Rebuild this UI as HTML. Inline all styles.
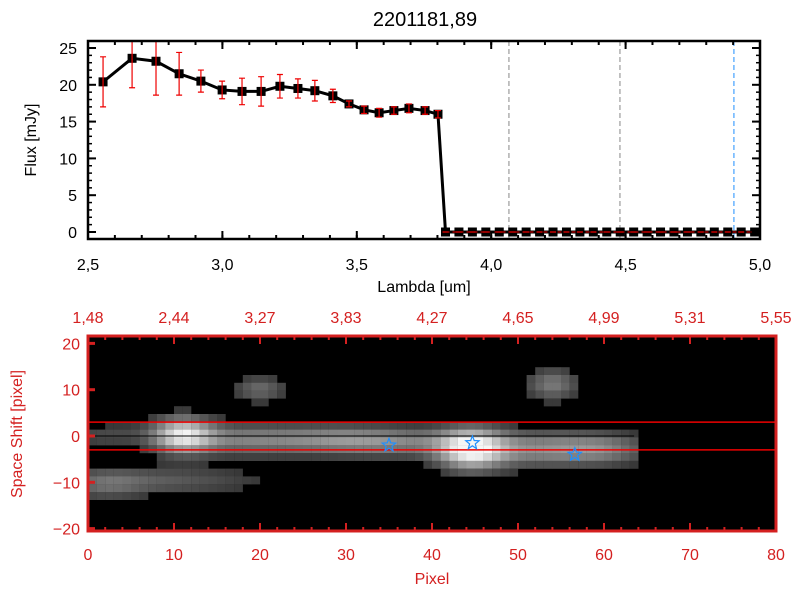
<!DOCTYPE html>
<html><head><meta charset="utf-8"><style>
body{margin:0;background:#fff;width:800px;height:600px;overflow:hidden}
svg text{font-family:"Liberation Sans",sans-serif}
</style></head><body>
<svg id="c" width="800" height="600"></svg>
<script>
const lam=[2.556,2.664,2.753,2.839,2.92,2.999,3.073,3.144,3.214,3.281,3.344,3.411,3.471,3.527,3.583,3.638,3.694,3.754,3.802,3.83,3.88,3.93,3.98,4.03,4.08,4.13,4.18,4.23,4.28,4.33,4.38,4.43,4.48,4.53,4.58,4.63,4.68,4.73,4.78,4.83,4.88,4.93,4.98];
const flux=[20.4,23.6,23.2,21.5,20.5,19.3,19.1,19.1,19.8,19.5,19.2,18.5,17.4,16.6,16.2,16.5,16.8,16.5,16.0,0,0,0,0,0,0,0,0,0,0,0,0,0,0,0,0,0,0,0,0,0,0,0,0];
const ferr=[3.4,4.0,4.6,2.9,1.5,1.2,1.8,2.0,1.6,1.3,1.4,0.9,0.4,0.5,0.6,0.5,0.6,0.5,0.5,0,0,0,0,0,0,0,0,0,0,0,0,0,0,0,0,0,0,0,0,0,0,0,0];
const vlines=[4.066,4.479,4.903];
const vcolors=["#888","#888","#1e8fff"];
const xTicks=["2,5","3,0","3,5","4,0","4,5","5,0"];
const yTicks=[0,5,10,15,20,25];
const topLabels=["1,48","2,44","3,27","3,83","4,27","4,65","4,99","5,31","5,55"];
const pixTicks=[0,10,20,30,40,50,60,70,80];
const shiftTicks=[20,10,0,-10,-20];
const blobX=[11,44.5,20,54,8,18,28,36,52,60,2,2];
const blobY=[0,-3,10,11,-10,-1,-1,-1.5,-3,-3,0,-11];
const blobA=[0.85,0.95,0.35,0.42,0.28,0.4,0.4,0.4,0.45,0.4,0.2,0.2];
const blobSX=[2.5,2.8,2.2,2.2,9,5,5,5,5,4,4,3];
const blobSY=[2.8,3.2,2,2.5,2.2,2.5,2.3,2.3,2.8,2.5,2,2.5];
const stars=[[35,-2],[44.7,-1.5],[56.6,-4]];

const S=document.getElementById('c');const NS="http://www.w3.org/2000/svg";
function el(t,a,txt,p){const e=document.createElementNS(NS,t);for(const k in a)e.setAttribute(k,a[k]);if(txt!==undefined)e.textContent=txt;(p||S).appendChild(e);return e;}
const X0=88,X1=760,Y0=41,Y1=239;
const xs=v=>X0+(v-2.5)/2.5*(X1-X0);
const ys=v=>232-v*7.36;
let t=el('text',{x:425,y:26,'text-anchor':'middle','font-size':20},'2201181,89');

vlines.forEach((v,i)=>{const l=el('line',{x1:xs(v),x2:xs(v),y1:Y0,y2:Y1,stroke:vcolors[i],'stroke-width':1,'stroke-dasharray':'5,3'});
});
let pts=lam.map((v,i)=>xs(v)+','+ys(flux[i])).join(' ');
let pl=el('polyline',{points:pts,fill:'none',stroke:'#000','stroke-width':3});

lam.forEach((v,i)=>{const x=xs(v),y=ys(flux[i]);
const r=el('rect',{x:x-4.5,y:y-4.5,width:9,height:9,fill:'#000'});

const yt=ys(flux[i]+ferr[i]),yb=ys(flux[i]-ferr[i]);
let d=`M${x},${Math.max(Y0,yt)}V${yb}M${x-3},${yb}h6`;
if(yt>=Y0)d+=`M${x-3},${yt}h6`;
const e=el('path',{d:d,stroke:'#e00',fill:'none','stroke-width':1.2});
});
el('line',{x1:xs(3.83),x2:X1,y1:ys(0),y2:ys(0),stroke:'#e00','stroke-width':1,'stroke-dasharray':'4,3'});
let fr=el('rect',{x:X0,y:Y0,width:X1-X0,height:Y1-Y0,fill:'none',stroke:'#000','stroke-width':2.5});

xTicks.forEach((s,i)=>{const v=2.5+i*0.5,x=xs(v);
el('line',{x1:x,x2:x,y1:Y1,y2:Y1-8,stroke:'#000','stroke-width':2});el('line',{x1:x,x2:x,y1:Y0,y2:Y0+8,stroke:'#000','stroke-width':2});
const tt=el('text',{x:x,y:270,'text-anchor':'middle','font-size':16},s);});
for(let v=2.6;v<5;v+=0.1){const x=xs(v);el('line',{x1:x,x2:x,y1:Y1,y2:Y1-4,stroke:'#000','stroke-width':2});el('line',{x1:x,x2:x,y1:Y0,y2:Y0+4,stroke:'#000','stroke-width':2});}
yTicks.forEach(v=>{const y=ys(v);el('line',{x1:X0,x2:X0+8,y1:y,y2:y,stroke:'#000','stroke-width':2});el('line',{x1:X1,x2:X1-8,y1:y,y2:y,stroke:'#000','stroke-width':2});
const tt=el('text',{x:77,y:y+6,'text-anchor':'end','font-size':16},String(v));});
for(let v=0;v<=25;v++){const y=ys(v);el('line',{x1:X0,x2:X0+4,y1:y,y2:y,stroke:'#000','stroke-width':1.5});el('line',{x1:X1,x2:X1-4,y1:y,y2:y,stroke:'#000','stroke-width':1.5});}
t=el('text',{x:424,y:292,'text-anchor':'middle','font-size':16},'Lambda [um]');
t=el('text',{x:0,y:0,'text-anchor':'middle','font-size':16,transform:'translate(36,140) rotate(-90)'},'Flux [mJy]');
const B0=88,B1=776,BT=336,BB=531,RED='#d42020';
const px=v=>B0+v*(B1-B0)/80;
const sy=v=>436-v*4.63;
el('rect',{x:B0,y:BT,width:B1-B0,height:BB-BT,fill:'#000'});
const g=el('g',{});
for(let c=0;c<64;c++)for(let r=0;r<25;r++){const pxv=c+0.5,sv=21.6-(r+0.5)*1.7;
let val=0;for(let b=0;b<blobX.length;b++){const dx=(pxv-blobX[b])/blobSX[b],dy=(sv-blobY[b])/blobSY[b];val+=blobA[b]*Math.exp(-0.5*(dx*dx+dy*dy));}
if(val<0.12)continue;val=Math.min(1,val);const gr=Math.round(30+val*215);
el('rect',{x:px(c),y:BT+r*7.8,width:8.7,height:8,fill:`rgb(${gr},${gr},${gr})`},undefined,g);}
[3,-3].forEach(v=>{const l=el('line',{x1:B0,x2:B1,y1:sy(v),y2:sy(v),stroke:'#e00','stroke-width':1.5});});
el('line',{x1:B0,x2:px(63.5),y1:sy(0),y2:sy(0),stroke:'#000','stroke-width':1});
stars.forEach(s=>{const cx=px(s[0]),cy=sy(s[1]);let d='';for(let k=0;k<10;k++){const a=-Math.PI/2+k*Math.PI/5,rr=k%2?3:7;d+=(k?'L':'M')+(cx+rr*Math.cos(a)).toFixed(1)+','+(cy+rr*Math.sin(a)).toFixed(1);}
const st=el('path',{d:d+'Z',fill:'none',stroke:'#1e8fff','stroke-width':1.2});});
fr=el('rect',{x:B0,y:BT,width:B1-B0,height:BB-BT,fill:'none',stroke:RED,'stroke-width':3});

pixTicks.forEach(v=>{const x=px(v);el('line',{x1:x,x2:x,y1:BB,y2:BB-8,stroke:RED,'stroke-width':2});el('line',{x1:x,x2:x,y1:BT,y2:BT+8,stroke:RED,'stroke-width':2});
const tt=el('text',{x:x,y:560,'text-anchor':'middle','font-size':16,fill:RED},String(v));});
for(let v=2;v<80;v+=2){const x=px(v);el('line',{x1:x,x2:x,y1:BB,y2:BB-4,stroke:RED,'stroke-width':2});el('line',{x1:x,x2:x,y1:BT,y2:BT+4,stroke:RED,'stroke-width':2});}
topLabels.forEach((s,i)=>{const tt=el('text',{x:px(i*10),y:323,'text-anchor':'middle','font-size':16,fill:RED},s);});
shiftTicks.forEach(v=>{const y=sy(v);el('line',{x1:B0,x2:B0+7,y1:y,y2:y,stroke:RED,'stroke-width':3});
const tt=el('text',{x:80,y:y+6,'text-anchor':'end','font-size':16,fill:RED},v<0?'\u2212'+(-v):String(v));});
t=el('text',{x:432,y:584,'text-anchor':'middle','font-size':16,fill:RED},'Pixel');
t=el('text',{x:0,y:0,'text-anchor':'middle','font-size':16,fill:RED,transform:'translate(22,434) rotate(-90)'},'Space Shift [pixel]');
</script></body></html>
